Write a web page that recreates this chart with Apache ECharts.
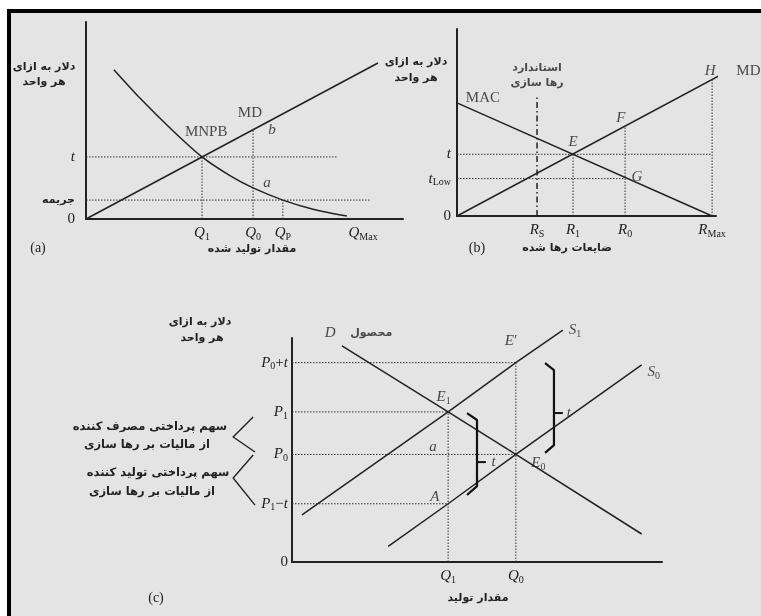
<!DOCTYPE html>
<html>
<head>
<meta charset="utf-8">
<script src="https://cdn.jsdelivr.net/npm/echarts@6/dist/echarts.min.js"></script>
<style>
  html, body { margin: 0; padding: 0; background: #fff; }
  #main { width: 761px; height: 616px; }
</style>
</head>
<body>
<div id="main"></div>
<script>
// ---------- Panel (a): output, marginal damage (MD) and marginal net private benefit (MNPB)
const aQ1 = 36.6, aQ0 = 52.7, aQP = 62.1, aQMax = 87.4;
const aTax = 31.5, aFine = 9.6;
const aTaxLineEnd = 79.2, aFineLineEnd = 89.6;
const aMD = [[0, 0], [92.1, 79.2]];
const aMNPB = [[8.8, 75.8], [17.0, 61.4], [27.4, 44.8], [36.6, 31.5], [45.4, 22.0],
               [52.7, 15.8], [62.1, 9.6], [71.6, 5.0], [82.3, 1.5]];
const aXTickValues = [aQ1, aQ0, aQP, aQMax];
const aXTickText = ['Q_1', 'Q_0', 'Q_P', 'Q_Max'];
const aYTickValues = [0, aFine, aTax];
const aYTickText = ['0', 'جریمه', 't'];
const aPointLabels = [
  { name: 'MD', value: [51.7, 53.8] },
  { name: 'MNPB', value: [37.9, 44.2] },
  { name: 'b', value: [58.7, 45.2] },
  { name: 'a', value: [57.1, 18.3] }
];

// ---------- Panel (b): emissions, marginal abatement cost (MAC) and marginal damage (MD)
const bRS = 30.9, bR1 = 44.8, bR0 = 64.9, bRMax = 98.5;
const bT = 33, bTLow = 20;
const bMAC = [[0, 60.5], [98.5, 0]];
const bMD = [[0, 0], [104.6, 77.5]];
const bMDAtR0 = 48.1, bMDAtRMax = 73.0, bStandardTop = 63.6;
const bXTickValues = [bRS, bR1, bR0, bRMax];
const bXTickText = ['R_S', 'R_1', 'R_0', 'R_Max'];
const bYTickValues = [0, bTLow, bT];
const bYTickText = ['0', 't_Low', 't'];
const bPointLabels = [
  { name: 'MAC', value: [10.0, 63.1] },
  { name: 'E', value: [44.8, 39.6] },
  { name: 'F', value: [63.3, 52.4] },
  { name: 'G', value: [69.5, 20.9] },
  { name: 'H', value: [97.7, 77.5] },
  { name: 'MD', value: [112.5, 77.5] },
  { name: 'استاندارد', value: [30.9, 79.1] },
  { name: 'رها سازی', value: [30.9, 71.1] }
];

// ---------- Panel (c): tax incidence with demand D and supply S0 / S1
const cQ1 = 42.2, cQ0 = 60.5;
const cP0t = 89, cP1 = 67, cP0 = 48, cP1t = 26;
const cD = [[13.5, 96.5], [42.2, 67], [60.5, 48], [94.5, 12.5]];
const cS0 = [[26, 7], [42.2, 26], [60.5, 48], [94.5, 88]];
const cS1 = [[2.7, 21], [42.2, 67], [60.5, 89], [73.2, 103.5]];
const cBraceLeft = [[47.3, 66.5], [50.0, 63.4], [50.0, 33.9], [47.3, 29.9]];
const cBraceLeftTick = [[50.0, 44.6], [52.4, 44.6]];
const cBraceRight = [[68.4, 88.8], [70.8, 85.7], [70.8, 52.2], [68.4, 48.7]];
const cBraceRightTick = [[70.8, 66.5], [73.2, 66.5]];
const cShareConsumer = [[-10.5, 64.7], [-15.9, 55.8], [-10.0, 49.1]];
const cShareProducer = [[-10.5, 47.8], [-15.9, 37.5], [-10.0, 25.4]];
const cXTickValues = [cQ1, cQ0];
const cXTickText = ['Q_1', 'Q_0'];
const cYTickValues = [0, cP1t, cP0, cP1, cP0t];
const cYTickText = ['0', 'P_1−t', 'P_0', 'P_1', 'P_0+t'];
const cPointLabels = [
  { name: 'S_1', value: [76.5, 103.6] },
  { name: 'S_0', value: [97.8, 84.8] },
  { name: 'E′', value: [59.2, 98.7] },
  { name: 'E_1', value: [41.0, 73.7] },
  { name: 'a', value: [38.1, 51.3] },
  { name: 'A', value: [38.6, 29.0] },
  { name: 'E_0', value: [66.6, 44.2] },
  { name: 'D', value: [10.3, 102.2] },
  { name: 'محصول', value: [21.4, 102.2] },
  { name: 't', value: [54.5, 44.6] },
  { name: 't', value: [74.8, 66.5] }
];

// ---------- styling helpers
const INK = '#222222';
const SERIF = '"Liberation Serif", "DejaVu Serif", serif';
const FA = '"DejaVu Sans", "Noto Sans", sans-serif';
const RICH = {
  i: { fontFamily: SERIF, fontStyle: 'italic', fontSize: 15, color: INK },
  u: { fontFamily: SERIF, fontSize: 15, color: INK },
  s: { fontFamily: SERIF, fontSize: 10, color: INK, padding: [8, 0, 0, 0] },
  fa: { fontFamily: FA, fontSize: 11, fontWeight: 'bold', color: INK }
};

// Turns 'Q_Max', 'P_0+t', 'MD' ... into rich-text tokens:
// single letters italic, words upright, text after '_' as subscript.
function richText(s) {
  let out = '', i = 0;
  while (i < s.length) {
    const c = s[i];
    let j = i + 1;
    if (c === '_') {
      while (j < s.length && /[A-Za-z0-9]/.test(s[j])) j++;
      out += '{s|' + s.slice(i + 1, j) + '}';
    } else if (/[A-Za-z]/.test(c)) {
      j = i;
      while (j < s.length && /[A-Za-z]/.test(s[j])) j++;
      const w = s.slice(i, j);
      out += (w.length > 1 ? '{u|' : '{i|') + w + '}';
    } else if (/[\u0600-\u06FF]/.test(c)) {
      while (j < s.length && /[\u0600-\u06FF\s\u200C]/.test(s[j])) j++;
      out += '{fa|' + s.slice(i, j) + '}';
    } else {
      while (j < s.length && !/[A-Za-z_\u0600-\u06FF]/.test(s[j])) j++;
      out += '{u|' + s.slice(i, j) + '}';
    }
    i = j;
  }
  return out;
}

function axis(idx, values, texts, margin) {
  return {
    type: 'value', gridIndex: idx, min: 0, max: 100,
    axisLine: { show: true, onZero: false, lineStyle: { color: INK, width: 2 } },
    axisTick: { show: false },
    splitLine: { show: false },
    axisLabel: {
      show: true, margin: margin, customValues: values,
      formatter: v => { const k = values.findIndex(x => Math.abs(x - v) < 1e-6); return k < 0 ? '' : richText(texts[k]); },
      rich: RICH
    }
  };
}

const series = [];
function line(idx, pts, style, smooth) {
  series.push({
    type: 'line', xAxisIndex: idx, yAxisIndex: idx, data: pts, symbol: 'none',
    smooth: smooth || false, clip: false, silent: true, z: 3,
    lineStyle: Object.assign({ color: INK, width: 1.5 }, style)
  });
}
const dotted = { color: '#333333', width: 1, type: [1.5, 1.5] };
function labels(idx, items) {
  series.push({
    type: 'scatter', xAxisIndex: idx, yAxisIndex: idx, data: items, symbolSize: 1,
    clip: false, silent: true, z: 5,
    itemStyle: { color: 'transparent' },
    label: { show: true, position: 'inside', formatter: p => richText(p.name), rich: RICH }
  });
}

// panel (a)
line(0, [[0, aTax], [aTaxLineEnd, aTax]], dotted);
line(0, [[0, aFine], [aFineLineEnd, aFine]], dotted);
line(0, [[aQ1, 0], [aQ1, aTax]], dotted);
line(0, [[aQ0, 0], [aQ0, aMD[1][1] * aQ0 / aMD[1][0]]], dotted);
line(0, [[aQP, 0], [aQP, aFine]], dotted);
line(0, aMD, {});
line(0, aMNPB, {}, 0.25);
labels(0, aPointLabels);

// panel (b)
line(1, [[0, bT], [bRMax, bT]], dotted);
line(1, [[0, bTLow], [bR0, bTLow]], dotted);
line(1, [[bR1, 0], [bR1, bT]], dotted);
line(1, [[bR0, 0], [bR0, bMDAtR0]], dotted);
line(1, [[bRMax, 0], [bRMax, bMDAtRMax]], dotted);
line(1, [[bRS, 0], [bRS, bStandardTop]], { color: INK, width: 1.5, type: [6, 3, 1.5, 3] });
line(1, bMAC, {});
line(1, bMD, {});
labels(1, bPointLabels);

// panel (c)
line(2, [[0, cP0t], [cQ0, cP0t]], dotted);
line(2, [[0, cP1], [cQ1, cP1]], dotted);
line(2, [[0, cP0], [cQ0, cP0]], dotted);
line(2, [[0, cP1t], [cQ1, cP1t]], dotted);
line(2, [[cQ1, 0], [cQ1, cP1]], dotted);
line(2, [[cQ0, 0], [cQ0, cP0t]], dotted);
line(2, cD, {});
line(2, cS0, {});
line(2, cS1, {});
line(2, cBraceLeft, { width: 2.2, color: '#111' });
line(2, cBraceLeftTick, { width: 2, color: '#111' });
line(2, cBraceRight, { width: 2.2, color: '#111' });
line(2, cBraceRightTick, { width: 2, color: '#111' });
labels(2, cPointLabels);

function txt(x, y, text, font) {
  return { type: 'text', x: x, y: y, z: 10, silent: true,
    style: { text: text, font: font, fill: INK, align: 'center', verticalAlign: 'middle' } };
}
const faFont = 'bold 11px ' + FA;
const faNote = 'bold 11.5px ' + FA;
const serifFont = '14px ' + SERIF;

const graphics = [
  { type: 'rect', z: -2, silent: true, shape: { x: 7, y: 9, width: 760, height: 620 }, style: { fill: '#000' } },
  { type: 'rect', z: -1, silent: true, shape: { x: 11, y: 13, width: 760, height: 620 }, style: { fill: '#e4e4e4' } },
  txt(44, 67, 'دلار به ازای', faFont), txt(44, 82, 'هر واحد', faFont),
  txt(38, 248, '(a)', serifFont), txt(252, 249, 'مقدار تولید شده', faFont),
  txt(416, 62, 'دلار به ازای', faFont), txt(416, 78, 'هر واحد', faFont),
  txt(477, 248, '(b)', serifFont), txt(567, 248, 'ضایعات رها شده', faFont),
  txt(200, 322, 'دلار به ازای', faFont), txt(202, 338, 'هر واحد', faFont),
  txt(156, 598, '(c)', serifFont), txt(478, 598, 'مقدار تولید', faFont),
  txt(150, 427, 'سهم پرداختی مصرف کننده', faNote), txt(147, 445, 'از مالیات بر رها سازی', faNote),
  txt(158, 473, 'سهم پرداختی تولید کننده', faNote), txt(152, 492, 'از مالیات بر رها سازی', faNote)
];

const option = {
  animation: false,
  backgroundColor: '#ffffff',
  grid: [
    { left: 86, top: 22, width: 317, height: 197, outerBoundsMode: 'none' },
    { left: 457, top: 29, width: 259, height: 187, outerBoundsMode: 'none' },
    { left: 292, top: 338, width: 370, height: 224, outerBoundsMode: 'none' }
  ],
  xAxis: [axis(0, aXTickValues, aXTickText, 5), axis(1, bXTickValues, bXTickText, 5), axis(2, cXTickValues, cXTickText, 5)],
  yAxis: [axis(0, aYTickValues, aYTickText, 11), axis(1, bYTickValues, bYTickText, 6), axis(2, cYTickValues, cYTickText, 4)],
  graphic: graphics,
  series: series
};

const chart = echarts.init(document.getElementById('main'), null, { renderer: 'canvas' });
chart.setOption(option);

// The two incidence brackets sit left of panel (c)'s axis; place them through the panel's scales.
const toPx = pts => pts.map(p => chart.convertToPixel({ gridIndex: 2 }, p));
chart.setOption({
  graphic: graphics.concat([cShareConsumer, cShareProducer].map(pts => ({
    type: 'polyline', z: 10, silent: true,
    shape: { points: toPx(pts) },
    style: { stroke: INK, lineWidth: 1.4, fill: null }
  })))
});
</script>
</body>
</html>
